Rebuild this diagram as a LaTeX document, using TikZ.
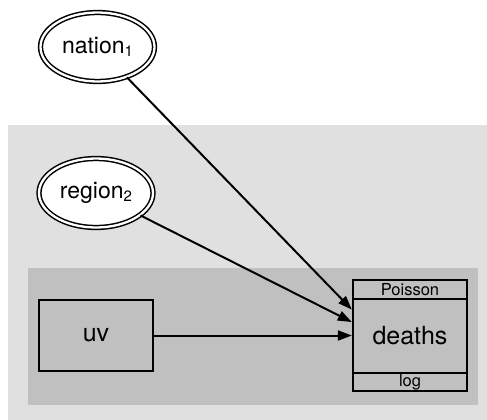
\documentclass[tikz,border=0pt]{standalone}
\usepackage{fontspec}
\setmainfont{TeX Gyre Heros}
\usepackage{xcolor}
\usetikzlibrary{arrows.meta}
\usetikzlibrary{shapes.geometric}
\usetikzlibrary{positioning}

\definecolor{plateout}{RGB}{224,224,224}
\definecolor{platein}{RGB}{192,192,192}
\newcommand{\idx}[1]{{\fontsize{15}{15}\selectfont\raisebox{-3pt}{#1}}}

\begin{document}
\begin{tikzpicture}[x=1pt,y=-1pt,
    stoch/.style={ellipse,draw,double,line width=1.5pt,double distance=2.3pt,fill=white,
      minimum width=114pt,minimum height=69pt,inner sep=0pt,font=\fontsize{23}{23}\selectfont},
    datum/.style={rectangle,draw,line width=2.3pt,minimum width=114pt,inner sep=0pt,
      font=\fontsize{25}{25}\selectfont},
    strip/.style={rectangle,draw,line width=2.3pt,minimum width=114pt,inner sep=0pt,
      font=\fontsize{16.5}{16.5}\selectfont},
    arr/.style={-{Triangle[length=14pt,width=10pt]},line width=2pt}]
        \useasboundingbox (0,0) rectangle (487,420);
        \fill[white] (0,0) rectangle (487,420);

        % plates
        \fill[plateout] (8,125) rectangle (487,420);
        \fill[platein] (28,268) rectangle (478,405);

        \node (nation) [stoch] at (97.5,47) {nation\idx{1}};
        \node (region) [stoch] at (96,193) {region\idx{2}};
        \node (uv) [datum,minimum height=71pt] at (96,335.5) {uv};
        \node (deaths) [datum,minimum height=111pt] at (410,335.5) {deaths};
        \node (dist) [strip,minimum height=19pt,below=0pt of deaths.north] {Poisson};
        \node (link) [strip,minimum height=18pt,above=0pt of deaths.south] {log};

        \path[arr] (nation) edge (deaths.156);
        \path[arr] (region) edge (deaths.167);
        \path[arr] (uv) edge (deaths);
      \end{tikzpicture}
\end{document}
